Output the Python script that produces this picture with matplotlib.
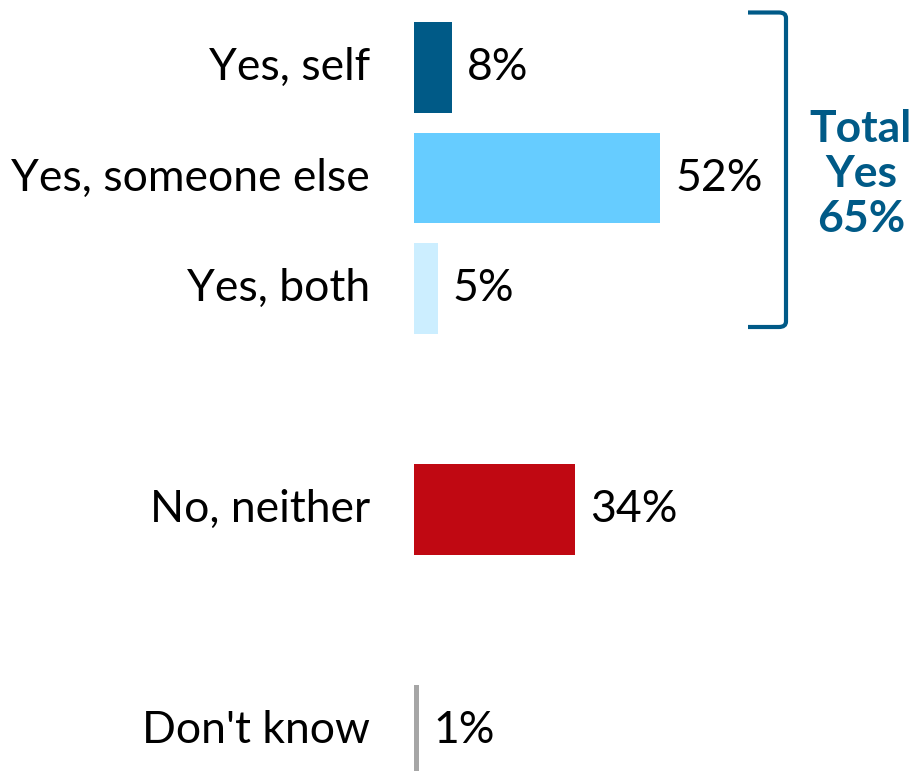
import matplotlib.pyplot as plt
from matplotlib.path import Path
from matplotlib.patches import PathPatch

# Data ------------------------------------------------------------------------
categories = ["Yes, self", "Yes, someone else", "Yes, both", "No, neither", "Don't know"]
values = [8, 52, 5, 34, 1]
slots = [0, 1, 2, 4, 6]
colors = ["#005A87", "#66CCFF", "#CCEEFF", "#C00812", "#A6A6A6"]
total_yes = 65

blue = "#005A87"
plt.rcParams["font.family"] = ["Lato", "DejaVu Sans"]

fig = plt.figure(figsize=(9.13, 7.71), dpi=100)
ax = fig.add_axes([0, 0, 1, 1])

# pixel -> data scale: 4.73 px per %, 110.5 px per slot
px_pct = 4.73
x0 = 414
ax.set_xlim(-x0 / px_pct, (913 - x0) / px_pct)
ax.set_ylim((771 - 67.5) / 110.5, -67.5 / 110.5)
ax.axis("off")

# Bars
for cat, v, s, c in zip(categories, values, slots, colors):
    ax.barh(s, v, height=0.82, color=c, left=0)
    ax.text(-9.3, s, cat, ha="right", va="center", fontsize=32, color="black")
    ax.text(v + 3.2, s, f"{v}%", ha="left", va="center", fontsize=32, color="black")

# Bracket round the Yes group
bx = (786 - x0) / px_pct
bl = (748 - x0) / px_pct
yt = -55 / 110.5
yb = (327 - 67.5) / 110.5
r = 0.05
verts = [(bl, yt), (bx - 1.5, yt), (bx, yt), (bx, yt + r),
         (bx, yb - r), (bx, yb), (bx - 1.5, yb), (bl, yb)]
codes = [Path.MOVETO, Path.LINETO, Path.CURVE3, Path.CURVE3,
         Path.LINETO, Path.CURVE3, Path.CURVE3, Path.LINETO]
ax.add_patch(PathPatch(Path(verts, codes), fill=False, edgecolor=blue, lw=3))

ax.text((861 - x0) / px_pct, 0.96, f"Total\nYes\n{total_yes}%", ha="center", va="center",
        fontsize=32, fontweight="bold", color=blue, linespacing=1.15)

fig.savefig("out.png", dpi=100)
